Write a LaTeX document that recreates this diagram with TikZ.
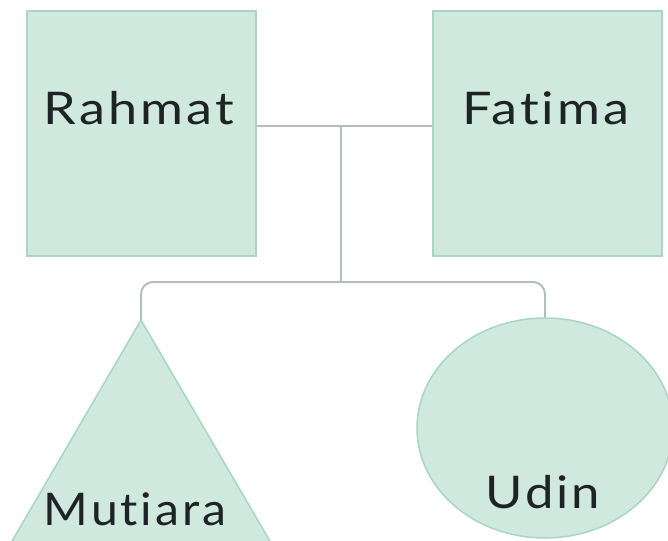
\documentclass[tikz,border=0pt]{standalone}
\usepackage{fontspec}
\usepackage{graphicx}
\newfontfamily\namefont[LetterSpace=6,Ligatures=NoCommon]{Lato}
\usetikzlibrary{shapes.geometric}
\newcommand{\widename}[2][1.16]{\scalebox{#1}[1]{#2}}
\begin{document}
\begin{tikzpicture}[x=1pt,y=-1pt,
  person/.style={draw=shapeline,fill=shapefill,line width=1.5pt},
  link/.style={draw=linkgray,line width=2pt},
  nametext/.style={font=\namefont\fontsize{45}{47}\selectfont,text=namecol,inner sep=0pt,anchor=base}]
\definecolor{shapefill}{HTML}{CFE9DF}
\definecolor{shapeline}{HTML}{A8D5C5}
\definecolor{linkgray}{HTML}{B4BEBB}
\definecolor{namecol}{HTML}{1E2426}
\useasboundingbox (0,0) rectangle (668,540);
\clip (0,0) rectangle (668,540);
% parents
\node[person,minimum width=229pt,minimum height=245pt,inner sep=0pt] (rahmat) at (141.5,133.5) {};
\node[person,minimum width=229pt,minimum height=245pt,inner sep=0pt] (fatima) at (547.5,133.5) {};
\node[nametext] (rahmatT) at (139,125) {\widename{Rahmat}};
\node[nametext] (fatimaT) at (546,125) {\widename{Fatima}};
% children shapes
\coordinate (mutiaraTop) at (141,320);
\filldraw[person] (mutiaraTop) -- (1,560) -- (281,560) -- cycle;
\node[person,ellipse,minimum width=256pt,minimum height=220pt,inner sep=0pt] (udin) at (545,428) {};
\coordinate (udinTop) at (udin.north);
\node[nametext] (mutiaraT) at (135,525) {\widename[1.07]{Mutiara}};
\node[nametext] (udinT) at (543,508) {\widename[1.13]{Udin}};
% connectors
\coordinate (mid) at (341,126);
\coordinate (fork) at (341,282);
\draw[link] (rahmat.east |- mid) -- (fatima.west |- mid);
\draw[link] (mid) -- (fork);
\draw[link,rounded corners=12pt] (mutiaraTop) |- (fork) -| (udinTop);
\end{tikzpicture}
\end{document}
